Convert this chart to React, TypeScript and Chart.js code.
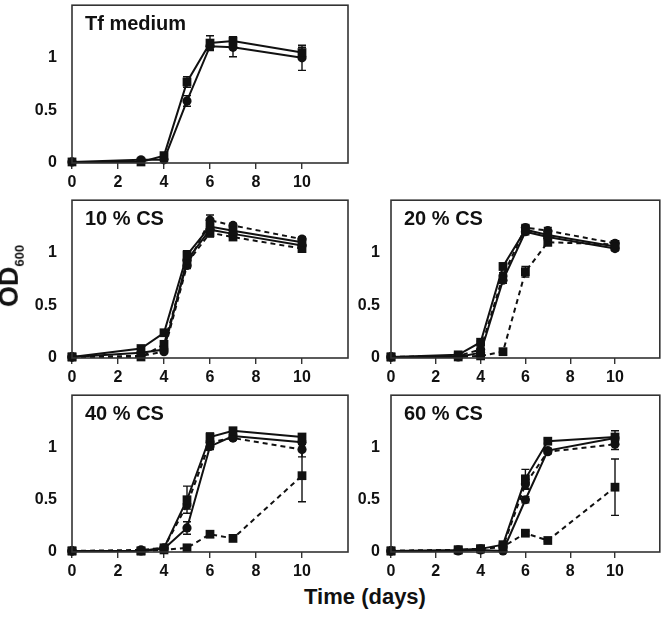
import React, { useEffect, useRef } from 'react';
import { Chart, registerables } from 'chart.js';

Chart.register(...registerables);

// ---------- data ----------
const days = [0, 3, 4, 5, 6, 7, 10];
const xTickValues = [0, 2, 4, 6, 8, 10];
const yTickValues = [0, 0.5, 1];

// Tf medium
const tfSquare = [0.01, 0.01, 0.07, 0.77, 1.14, 1.16, 1.05];
const tfSquareErr = [0, 0.01, 0.02, 0.05, 0.07, 0.04, 0.05];
const tfCircle = [0.01, 0.03, 0.03, 0.59, 1.11, 1.1, 1.0];
const tfCircleErr = [0, 0.01, 0.01, 0.05, 0.03, 0.09, 0.12];

// 10 % CS
const cs10SolidSquare = [0.01, 0.09, 0.24, 0.98, 1.25, 1.21, 1.1];
const cs10SolidCircle = [0.01, 0.05, 0.08, 0.93, 1.22, 1.18, 1.07];
const cs10DashedSquare = [0.01, 0.01, 0.13, 0.9, 1.19, 1.15, 1.04];
const cs10DashedCircle = [0.01, 0.02, 0.06, 0.88, 1.31, 1.26, 1.13];
const cs10SolidSquareErr = [0, 0.01, 0.01, 0.04, 0.03, 0.03, 0.02];
const cs10SolidCircleErr = [0, 0.01, 0.01, 0.03, 0.03, 0.02, 0.02];
const cs10DashedSquareErr = [0, 0.01, 0.02, 0.03, 0.04, 0.02, 0.02];
const cs10DashedCircleErr = [0, 0.01, 0.01, 0.03, 0.05, 0.02, 0.02];

// 20 % CS
const cs20SolidSquare = [0.01, 0.03, 0.15, 0.87, 1.22, 1.17, 1.06];
const cs20SolidCircle = [0.01, 0.01, 0.05, 0.74, 1.2, 1.15, 1.04];
const cs20DashedSquare = [0.01, 0.01, 0.02, 0.06, 0.82, 1.1, 1.08];
const cs20DashedCircle = [0.01, 0.02, 0.08, 0.78, 1.24, 1.21, 1.09];
const cs20SolidSquareErr = [0, 0.01, 0.01, 0.03, 0.04, 0.03, 0.03];
const cs20SolidCircleErr = [0, 0.01, 0.01, 0.03, 0.03, 0.03, 0.02];
const cs20DashedSquareErr = [0, 0.01, 0.01, 0.01, 0.05, 0.03, 0.03];
const cs20DashedCircleErr = [0, 0.01, 0.01, 0.03, 0.03, 0.03, 0.02];

// 40 % CS
const cs40SolidSquare = [0.01, 0.01, 0.04, 0.5, 1.1, 1.16, 1.1];
const cs40SolidCircle = [0.01, 0.01, 0.03, 0.23, 1.01, 1.11, 1.05];
const cs40DashedSquare = [0.01, 0.01, 0.02, 0.04, 0.17, 0.13, 0.73];
const cs40DashedCircle = [0.01, 0.02, 0.04, 0.45, 1.05, 1.09, 0.98];
const cs40SolidSquareErr = [0, 0.01, 0.01, 0.13, 0.04, 0.02, 0.02];
const cs40SolidCircleErr = [0, 0.01, 0.01, 0.06, 0.03, 0.02, 0.02];
const cs40DashedSquareErr = [0, 0.01, 0.01, 0.01, 0.02, 0.01, 0.25];
const cs40DashedCircleErr = [0, 0.01, 0.01, 0.04, 0.03, 0.02, 0.07];

// 60 % CS
const cs60SolidSquare = [0.01, 0.02, 0.03, 0.07, 0.7, 1.06, 1.1];
const cs60SolidCircle = [0.01, 0.01, 0.02, 0.01, 0.5, 0.97, 1.09];
const cs60DashedSquare = [0.01, 0.02, 0.03, 0.05, 0.18, 0.11, 0.62];
const cs60DashedCircle = [0.01, 0.02, 0.03, 0.05, 0.65, 0.96, 1.03];
const cs60SolidSquareErr = [0, 0.01, 0.01, 0.01, 0.09, 0.02, 0.06];
const cs60SolidCircleErr = [0, 0.01, 0.01, 0.01, 0.03, 0.02, 0.03];
const cs60DashedSquareErr = [0, 0.01, 0.01, 0.01, 0.02, 0.01, 0.27];
const cs60DashedCircleErr = [0, 0.01, 0.01, 0.01, 0.05, 0.02, 0.05];

const panelTitles = ['Tf medium', '10 % CS', '20 % CS', '40 % CS', '60 % CS'];

type Series = { values: number[]; errors: number[]; shape: 'rect' | 'circle'; dashed: boolean };

const panelSeries: Series[][] = [
  [
    { values: tfSquare, errors: tfSquareErr, shape: 'rect', dashed: false },
    { values: tfCircle, errors: tfCircleErr, shape: 'circle', dashed: false },
  ],
  [
    { values: cs10SolidSquare, errors: cs10SolidSquareErr, shape: 'rect', dashed: false },
    { values: cs10SolidCircle, errors: cs10SolidCircleErr, shape: 'circle', dashed: false },
    { values: cs10DashedSquare, errors: cs10DashedSquareErr, shape: 'rect', dashed: true },
    { values: cs10DashedCircle, errors: cs10DashedCircleErr, shape: 'circle', dashed: true },
  ],
  [
    { values: cs20SolidSquare, errors: cs20SolidSquareErr, shape: 'rect', dashed: false },
    { values: cs20SolidCircle, errors: cs20SolidCircleErr, shape: 'circle', dashed: false },
    { values: cs20DashedSquare, errors: cs20DashedSquareErr, shape: 'rect', dashed: true },
    { values: cs20DashedCircle, errors: cs20DashedCircleErr, shape: 'circle', dashed: true },
  ],
  [
    { values: cs40SolidSquare, errors: cs40SolidSquareErr, shape: 'rect', dashed: false },
    { values: cs40SolidCircle, errors: cs40SolidCircleErr, shape: 'circle', dashed: false },
    { values: cs40DashedSquare, errors: cs40DashedSquareErr, shape: 'rect', dashed: true },
    { values: cs40DashedCircle, errors: cs40DashedCircleErr, shape: 'circle', dashed: true },
  ],
  [
    { values: cs60SolidSquare, errors: cs60SolidSquareErr, shape: 'rect', dashed: false },
    { values: cs60SolidCircle, errors: cs60SolidCircleErr, shape: 'circle', dashed: false },
    { values: cs60DashedSquare, errors: cs60DashedSquareErr, shape: 'rect', dashed: true },
    { values: cs60DashedCircle, errors: cs60DashedCircleErr, shape: 'circle', dashed: true },
  ],
];

// ---------- layout ----------
const FONT = "'Liberation Sans', Arial, sans-serif";
const INK = '#111';
const BOX = '#333';

type Layout = { left: number; top: number; width: number; height: number; axisW: number; padRight: number; tickPad: number };
const PAD_TOP = 2;
const AREA_H = 162;
const X_AXIS_H = 30;
const colLeft = { left: 0, width: 360, axisW: 72, padRight: 12, tickPad: 15 };
const colRight = { left: 345, width: 321, axisW: 46, padRight: 2, tickPad: 11 };
const rowTops = [1, 196, 391];

const layouts: Layout[] = [
  { ...colLeft, top: rowTops[0] - PAD_TOP, height: PAD_TOP + AREA_H + X_AXIS_H },
  { ...colLeft, top: rowTops[1] - PAD_TOP, height: PAD_TOP + AREA_H + X_AXIS_H },
  { ...colRight, top: rowTops[1] - PAD_TOP, height: PAD_TOP + AREA_H + X_AXIS_H },
  { ...colLeft, top: rowTops[2] - PAD_TOP, height: PAD_TOP + AREA_H - 1 + X_AXIS_H },
  { ...colRight, top: rowTops[2] - PAD_TOP, height: PAD_TOP + AREA_H - 1 + X_AXIS_H },
];

const decorPlugin = {
  id: 'panelDecor',
  beforeDatasetsDraw(chart: any) {
    const ctx = chart.ctx;
    const yScale = chart.scales.y;
    ctx.save();
    ctx.strokeStyle = INK;
    ctx.lineWidth = 1.4;
    chart.data.datasets.forEach((ds: any, i: number) => {
      const meta = chart.getDatasetMeta(i);
      (ds.errors || []).forEach((e: number, j: number) => {
        if (!e) return;
        const pt = meta.data[j];
        const v = ds.data[j].y;
        const yt = yScale.getPixelForValue(v + e);
        const yb = yScale.getPixelForValue(v - e);
        ctx.beginPath();
        ctx.moveTo(pt.x, yt);
        ctx.lineTo(pt.x, yb);
        ctx.moveTo(pt.x - 4, yt);
        ctx.lineTo(pt.x + 4, yt);
        ctx.moveTo(pt.x - 4, yb);
        ctx.lineTo(pt.x + 4, yb);
        ctx.stroke();
      });
    });
    ctx.restore();
  },
  afterDraw(chart: any, _args: any, opts: any) {
    const { ctx, chartArea } = chart;
    ctx.save();
    ctx.strokeStyle = BOX;
    ctx.lineWidth = 1.6;
    ctx.strokeRect(chartArea.left, chartArea.top, chartArea.right - chartArea.left, chartArea.bottom - chartArea.top);
    ctx.fillStyle = INK;
    ctx.font = `bold 20px ${FONT}`;
    ctx.textBaseline = 'middle';
    ctx.textAlign = 'left';
    ctx.fillText(opts.title, chartArea.left + 13, chartArea.top + 19);
    ctx.restore();
  },
};

function Panel({ index }: { index: number }) {
  const ref = useRef<HTMLCanvasElement>(null);
  const lay = layouts[index];
  useEffect(() => {
    if (!ref.current) return;
    const datasets = panelSeries[index].map((s) => ({
      data: days.map((d, k) => ({ x: d, y: s.values[k] })),
      errors: s.errors,
      borderColor: INK,
      backgroundColor: INK,
      borderWidth: 2,
      borderDash: s.dashed ? [5, 4] : [],
      pointStyle: s.shape,
      pointRadius: s.shape === 'rect' ? 6.2 : 4.6,
      pointBorderWidth: 0,
      pointBackgroundColor: INK,
      tension: 0,
      clip: false as any,
    }));
    const chart = new Chart(ref.current, {
      type: 'line',
      data: { datasets: datasets as any },
      plugins: [decorPlugin as any],
      options: {
        animation: false,
        responsive: false,
        devicePixelRatio: 1,
        layout: { padding: { top: PAD_TOP, right: lay.padRight, left: 0, bottom: 0 } },
        plugins: {
          legend: { display: false },
          tooltip: { enabled: false },
          panelDecor: { title: panelTitles[index] },
        } as any,
        scales: {
          x: {
            type: 'linear',
            min: 0,
            max: 12,
            afterBuildTicks: (s: any) => {
              s.ticks = xTickValues.map((v) => ({ value: v }));
            },
            afterFit: (s: any) => {
              s.height = X_AXIS_H;
              s.paddingLeft = 0;
              s.paddingRight = 0;
            },
            ticks: {
              color: INK,
              font: { family: FONT, size: 16, weight: 'bold' },
              padding: 4,
              maxRotation: 0,
              autoSkip: false,
              callback: (v: any) => String(v),
            },
            grid: { display: true, drawOnChartArea: false, drawTicks: true, tickLength: 6, color: BOX, lineWidth: 1.4 },
            border: { display: false },
          },
          y: {
            type: 'linear',
            min: 0,
            max: 1.5,
            afterBuildTicks: (s: any) => {
              s.ticks = yTickValues.map((v) => ({ value: v }));
            },
            afterFit: (s: any) => {
              s.width = lay.axisW;
              s.paddingTop = 0;
              s.paddingBottom = 0;
            },
            ticks: {
              color: INK,
              font: { family: FONT, size: 16, weight: 'bold' },
              padding: lay.tickPad,
              callback: (v: any) => String(v),
            },
            grid: { display: false, drawTicks: false, tickLength: 0 },
            border: { display: false },
          },
        },
      } as any,
    });
    return () => chart.destroy();
  }, [index]);
  return (
    <canvas
      ref={ref}
      width={lay.width}
      height={lay.height}
      style={{ position: 'absolute', left: lay.left, top: lay.top, width: lay.width, height: lay.height }}
    />
  );
}

export default function App() {
  return (
    <div style={{ position: 'absolute', left: 0, top: 0, width: 666, height: 617, background: '#fff', overflow: 'hidden' }}>
      {panelTitles.map((_, i) => (
        <Panel key={i} index={i} />
      ))}
      <div
        style={{
          position: 'absolute',
          left: 11,
          top: 276,
          transform: 'translate(-50%, -50%) rotate(-90deg)',
          whiteSpace: 'nowrap',
          fontFamily: FONT,
          fontWeight: 'bold',
          fontSize: 27,
          color: INK,
          lineHeight: 1,
        }}
      >
        OD<sub style={{ fontSize: 13, verticalAlign: 'sub' }}>600</sub>
      </div>
      <div
        style={{
          position: 'absolute',
          left: 365,
          top: 597,
          transform: 'translate(-50%, -50%)',
          whiteSpace: 'nowrap',
          fontFamily: FONT,
          fontWeight: 'bold',
          fontSize: 22,
          color: INK,
          lineHeight: 1,
        }}
      >
        Time (days)
      </div>
    </div>
  );
}
